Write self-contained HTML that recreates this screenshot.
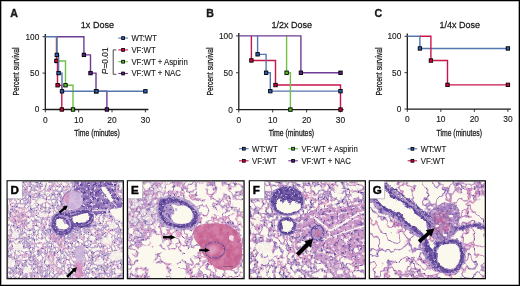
<!DOCTYPE html>
<html><head><meta charset="utf-8"><style>
html,body{margin:0;padding:0;background:#fff;}
body{width:520px;height:286px;overflow:hidden;position:relative;}
svg{position:absolute;left:0;top:0;display:block;will-change:transform;}
text{font-family:"Liberation Sans", sans-serif;fill:#1a1a1a;stroke:#1a1a1a;stroke-width:0.13px;}
text.lb{stroke-width:0.35px;}
text.ax{stroke-width:0.26px;}
#frame{position:absolute;left:0;top:0;width:518px;height:284px;border:1px solid #000;box-shadow:inset 0 0 0 0.6px #777;}
</style></head><body>
<svg width="520" height="286" viewBox="0 0 520 286">
<defs><filter id="tDense" filterUnits="userSpaceOnUse" x="0" y="175" width="520" height="111" color-interpolation-filters="sRGB"><feTurbulence type="fractalNoise" baseFrequency="0.26 0.23" numOctaves="3" seed="3" result="n1"/><feColorMatrix in="n1" type="matrix" values="0 0 0 0 0 0 0 0 0 0 0 0 0 0 0 1 0 0 0 0" result="a1"/><feComponentTransfer in="a1" result="T"><feFuncA type="table" tableValues="0.00 0.00 0.00 0.00 0.00 0.00 0.00 0.00 0.00 0.00 0.00 0.00 0.00 0.13 0.25 0.38 0.50 0.62 0.75 0.87 1.00 0.87 0.75 0.63 0.50 0.38 0.25 0.12 0.00 0.00 0.00 0.00 0.00 0.00 0.00 0.00 0.00 0.00 0.00 0.00 0.00"/></feComponentTransfer><feTurbulence type="fractalNoise" baseFrequency="0.2 0.17" numOctaves="2" seed="7" result="n2"/><feComponentTransfer in="n2" result="n2s"><feFuncR type="linear" slope="4.348" intercept="-1.957"/></feComponentTransfer><feColorMatrix in="n2s" type="matrix" values="0.157 0 0 0 0.675 0.024 0 0 0 0.580 0.000 0 0 0 0.784 0 0 0 0 1" result="C"/><feTurbulence type="fractalNoise" baseFrequency="0.5 0.44" numOctaves="3" seed="11" result="n30"/><feColorMatrix in="n30" type="matrix" values="0 0 0 0 0 0 0 0 0 0 0 0 0 0 0 1 0 0 0 0" result="a30"/><feComponentTransfer in="a30" result="D0"><feFuncA type="table" tableValues="0.00 0.00 0.00 0.00 0.00 0.00 0.00 0.00 0.00 0.00 0.00 0.00 0.00 0.00 0.00 0.00 0.00 0.00 0.00 0.00 0.00 0.00 0.00 0.00 0.00 0.17 0.58 1.00 1.00 1.00 1.00 1.00 1.00 1.00 1.00 1.00 1.00 1.00 1.00 1.00 1.00"/></feComponentTransfer><feFlood flood-color="#6a56a6"/><feComposite in2="D0" operator="in" result="Dc0"/><feComposite in="Dc0" in2="C" operator="over" result="CD0"/><feComposite in="CD0" in2="T" operator="in" result="TT"/><feComposite in="TT" in2="SourceAlpha" operator="in"/><feGaussianBlur stdDeviation="0.4"/></filter>
<filter id="tMed" filterUnits="userSpaceOnUse" x="0" y="175" width="520" height="111" color-interpolation-filters="sRGB"><feTurbulence type="fractalNoise" baseFrequency="0.15" numOctaves="3" seed="5" result="n1"/><feColorMatrix in="n1" type="matrix" values="0 0 0 0 0 0 0 0 0 0 0 0 0 0 0 1 0 0 0 0" result="a1"/><feComponentTransfer in="a1" result="T"><feFuncA type="table" tableValues="0.00 0.00 0.00 0.00 0.00 0.00 0.00 0.00 0.00 0.00 0.00 0.00 0.00 0.00 0.00 0.17 0.33 0.50 0.67 0.83 1.00 0.83 0.67 0.50 0.33 0.17 0.00 0.00 0.00 0.00 0.00 0.00 0.00 0.00 0.00 0.00 0.00 0.00 0.00 0.00 0.00"/></feComponentTransfer><feTurbulence type="fractalNoise" baseFrequency="0.07" numOctaves="2" seed="9" result="n2"/><feComponentTransfer in="n2" result="n2s"><feFuncR type="linear" slope="4.000" intercept="-1.800"/></feComponentTransfer><feColorMatrix in="n2s" type="matrix" values="0.078 0 0 0 0.769 -0.047 0 0 0 0.667 -0.047 0 0 0 0.831 0 0 0 0 1" result="C"/><feTurbulence type="fractalNoise" baseFrequency="0.38 0.33" numOctaves="3" seed="13" result="n30"/><feColorMatrix in="n30" type="matrix" values="0 0 0 0 0 0 0 0 0 0 0 0 0 0 0 1 0 0 0 0" result="a30"/><feComponentTransfer in="a30" result="D0"><feFuncA type="table" tableValues="0.00 0.00 0.00 0.00 0.00 0.00 0.00 0.00 0.00 0.00 0.00 0.00 0.00 0.00 0.00 0.00 0.00 0.00 0.00 0.00 0.00 0.00 0.00 0.00 0.00 0.36 0.71 1.00 1.00 1.00 1.00 1.00 1.00 1.00 1.00 1.00 1.00 1.00 1.00 1.00 1.00"/></feComponentTransfer><feFlood flood-color="#7260ac"/><feComposite in2="D0" operator="in" result="Dc0"/><feComposite in="Dc0" in2="C" operator="over" result="CD0"/><feComposite in="CD0" in2="T" operator="in" result="TT"/><feComposite in="TT" in2="SourceAlpha" operator="in"/><feGaussianBlur stdDeviation="0.45"/></filter>
<filter id="tNet" filterUnits="userSpaceOnUse" x="0" y="175" width="520" height="111" color-interpolation-filters="sRGB"><feTurbulence type="fractalNoise" baseFrequency="0.13" numOctaves="3" seed="15" result="n1"/><feColorMatrix in="n1" type="matrix" values="0 0 0 0 0 0 0 0 0 0 0 0 0 0 0 1 0 0 0 0" result="a1"/><feComponentTransfer in="a1" result="T"><feFuncA type="table" tableValues="0.00 0.00 0.00 0.00 0.00 0.00 0.00 0.00 0.00 0.00 0.00 0.00 0.00 0.00 0.00 0.00 0.20 0.40 0.60 0.80 1.00 0.80 0.60 0.40 0.20 0.00 0.00 0.00 0.00 0.00 0.00 0.00 0.00 0.00 0.00 0.00 0.00 0.00 0.00 0.00 0.00"/></feComponentTransfer><feTurbulence type="fractalNoise" baseFrequency="0.08" numOctaves="2" seed="17" result="n2"/><feComponentTransfer in="n2" result="n2s"><feFuncR type="linear" slope="4.000" intercept="-1.600"/></feComponentTransfer><feColorMatrix in="n2s" type="matrix" values="0.110 0 0 0 0.706 0.008 0 0 0 0.525 -0.024 0 0 0 0.761 0 0 0 0 1" result="C"/><feTurbulence type="fractalNoise" baseFrequency="0.41 0.36" numOctaves="3" seed="19" result="n30"/><feColorMatrix in="n30" type="matrix" values="0 0 0 0 0 0 0 0 0 0 0 0 0 0 0 1 0 0 0 0" result="a30"/><feComponentTransfer in="a30" result="D0"><feFuncA type="table" tableValues="0.00 0.00 0.00 0.00 0.00 0.00 0.00 0.00 0.00 0.00 0.00 0.00 0.00 0.00 0.00 0.00 0.00 0.00 0.00 0.00 0.00 0.00 0.00 0.00 0.29 0.64 1.00 1.00 1.00 1.00 1.00 1.00 1.00 1.00 1.00 1.00 1.00 1.00 1.00 1.00 1.00"/></feComponentTransfer><feFlood flood-color="#6a52a4"/><feComposite in2="D0" operator="in" result="Dc0"/><feComposite in="Dc0" in2="C" operator="over" result="CD0"/><feComposite in="CD0" in2="T" operator="in" result="TT"/><feComposite in="TT" in2="SourceAlpha" operator="in"/><feGaussianBlur stdDeviation="0.35"/></filter>
<filter id="tSparse" filterUnits="userSpaceOnUse" x="0" y="175" width="520" height="111" color-interpolation-filters="sRGB"><feTurbulence type="fractalNoise" baseFrequency="0.08" numOctaves="3" seed="3" result="n1"/><feColorMatrix in="n1" type="matrix" values="0 0 0 0 0 0 0 0 0 0 0 0 0 0 0 1 0 0 0 0" result="a1"/><feComponentTransfer in="a1" result="T"><feFuncA type="table" tableValues="0.00 0.00 0.00 0.00 0.00 0.00 0.00 0.00 0.00 0.00 0.00 0.00 0.00 0.00 0.00 0.00 0.00 0.00 0.33 0.67 1.00 0.67 0.33 0.00 0.00 0.00 0.00 0.00 0.00 0.00 0.00 0.00 0.00 0.00 0.00 0.00 0.00 0.00 0.00 0.00 0.00"/></feComponentTransfer><feTurbulence type="fractalNoise" baseFrequency="0.05" numOctaves="2" seed="7" result="n2"/><feComponentTransfer in="n2" result="n2s"><feFuncR type="linear" slope="5.000" intercept="-2.000"/></feComponentTransfer><feColorMatrix in="n2s" type="matrix" values="0.157 0 0 0 0.643 0.047 0 0 0 0.455 -0.016 0 0 0 0.737 0 0 0 0 1" result="C"/><feTurbulence type="fractalNoise" baseFrequency="0.47 0.41" numOctaves="2" seed="11" result="n30"/><feColorMatrix in="n30" type="matrix" values="0 0 0 0 0 0 0 0 0 0 0 0 0 0 0 1 0 0 0 0" result="a30"/><feComponentTransfer in="a30" result="D0"><feFuncA type="table" tableValues="0.00 0.00 0.00 0.00 0.00 0.00 0.00 0.00 0.00 0.00 0.00 0.00 0.00 0.00 0.00 0.00 0.00 0.00 0.00 0.00 0.00 0.00 0.00 0.00 0.00 0.42 0.83 1.00 1.00 1.00 1.00 1.00 1.00 1.00 1.00 1.00 1.00 1.00 1.00 1.00 1.00"/></feComponentTransfer><feFlood flood-color="#5e4a9c"/><feComposite in2="D0" operator="in" result="Dc0"/><feComposite in="Dc0" in2="C" operator="over" result="CD0"/><feComposite in="CD0" in2="T" operator="in" result="TT"/><feComposite in="TT" in2="SourceAlpha" operator="in"/><feGaussianBlur stdDeviation="0.3"/></filter>
<filter id="soft" x="-20%" y="-20%" width="140%" height="140%"><feGaussianBlur stdDeviation="0.6"/></filter>
<filter id="soft2" x="-30%" y="-30%" width="160%" height="160%"><feGaussianBlur stdDeviation="1.2"/></filter>
<filter id="wavy" filterUnits="userSpaceOnUse" x="0" y="175" width="520" height="111"><feTurbulence type="fractalNoise" baseFrequency="0.25" numOctaves="2" seed="4" result="w"/><feDisplacementMap in="SourceGraphic" in2="w" scale="2.5" xChannelSelector="R" yChannelSelector="G"/><feGaussianBlur stdDeviation="0.3"/></filter>
<filter id="tDarkS" filterUnits="userSpaceOnUse" x="0" y="175" width="520" height="111" color-interpolation-filters="sRGB"><feTurbulence type="fractalNoise" baseFrequency="0.3" numOctaves="1" seed="41" result="n1"/><feColorMatrix in="n1" type="matrix" values="0 0 0 0 0 0 0 0 0 0 0 0 0 0 0 1 0 0 0 0" result="a1"/><feComponentTransfer in="a1" result="T"><feFuncA type="table" tableValues="0.00 1.00 1.00 1.00 1.00 1.00 1.00 1.00 1.00 1.00 1.00 1.00 1.00 1.00 1.00 1.00 1.00 1.00 1.00 1.00 1.00 1.00 1.00 1.00 1.00 1.00 1.00 1.00 1.00 1.00 1.00 1.00 1.00 1.00 1.00 1.00 1.00 1.00 1.00 1.00 1.00"/></feComponentTransfer><feTurbulence type="fractalNoise" baseFrequency="0.25" numOctaves="2" seed="43" result="n2"/><feComponentTransfer in="n2" result="n2s"><feFuncR type="linear" slope="3.333" intercept="-1.167"/></feComponentTransfer><feColorMatrix in="n2s" type="matrix" values="0.165 0 0 0 0.518 0.165 0 0 0 0.400 0.102 0 0 0 0.682 0 0 0 0 1" result="C"/><feTurbulence type="fractalNoise" baseFrequency="0.41 0.36" numOctaves="3" seed="45" result="n30"/><feColorMatrix in="n30" type="matrix" values="0 0 0 0 0 0 0 0 0 0 0 0 0 0 0 1 0 0 0 0" result="a30"/><feComponentTransfer in="a30" result="D0"><feFuncA type="table" tableValues="0.00 0.00 0.00 0.00 0.00 0.00 0.00 0.00 0.00 0.00 0.00 0.00 0.00 0.00 0.00 0.00 0.00 0.00 0.00 0.00 0.00 0.00 0.00 0.00 0.33 0.75 1.00 1.00 1.00 1.00 1.00 1.00 1.00 1.00 1.00 1.00 1.00 1.00 1.00 1.00 1.00"/></feComponentTransfer><feFlood flood-color="#5c4898"/><feComposite in2="D0" operator="in" result="Dc0"/><feComposite in="Dc0" in2="C" operator="over" result="CD0"/><feTurbulence type="fractalNoise" baseFrequency="0.33 0.29" numOctaves="3" seed="47" result="n31"/><feColorMatrix in="n31" type="matrix" values="0 0 0 0 0 0 0 0 0 0 0 0 0 0 0 1 0 0 0 0" result="a31"/><feComponentTransfer in="a31" result="D1"><feFuncA type="table" tableValues="0.00 0.00 0.00 0.00 0.00 0.00 0.00 0.00 0.00 0.00 0.00 0.00 0.00 0.00 0.00 0.00 0.00 0.00 0.00 0.00 0.00 0.00 0.00 0.00 0.00 0.00 0.17 0.58 1.00 1.00 1.00 1.00 1.00 1.00 1.00 1.00 1.00 1.00 1.00 1.00 1.00"/></feComponentTransfer><feFlood flood-color="#ddd0e8"/><feComposite in2="D1" operator="in" result="Dc1"/><feComposite in="Dc1" in2="CD0" operator="over" result="CD1"/><feComposite in="CD1" in2="T" operator="in" result="TT"/><feTurbulence type="fractalNoise" baseFrequency="0.2" numOctaves="2" seed="31" result="dn"/><feDisplacementMap in="SourceAlpha" in2="dn" scale="2.5" xChannelSelector="R" yChannelSelector="G" result="SA"/><feComposite in="TT" in2="SA" operator="in"/><feGaussianBlur stdDeviation="0.45"/></filter>
<filter id="tLavS" filterUnits="userSpaceOnUse" x="0" y="175" width="520" height="111" color-interpolation-filters="sRGB"><feTurbulence type="fractalNoise" baseFrequency="0.3" numOctaves="1" seed="41" result="n1"/><feColorMatrix in="n1" type="matrix" values="0 0 0 0 0 0 0 0 0 0 0 0 0 0 0 1 0 0 0 0" result="a1"/><feComponentTransfer in="a1" result="T"><feFuncA type="table" tableValues="0.00 1.00 1.00 1.00 1.00 1.00 1.00 1.00 1.00 1.00 1.00 1.00 1.00 1.00 1.00 1.00 1.00 1.00 1.00 1.00 1.00 1.00 1.00 1.00 1.00 1.00 1.00 1.00 1.00 1.00 1.00 1.00 1.00 1.00 1.00 1.00 1.00 1.00 1.00 1.00 1.00"/></feComponentTransfer><feTurbulence type="fractalNoise" baseFrequency="0.25" numOctaves="2" seed="53" result="n2"/><feComponentTransfer in="n2" result="n2s"><feFuncR type="linear" slope="3.333" intercept="-1.167"/></feComponentTransfer><feColorMatrix in="n2s" type="matrix" values="0.078 0 0 0 0.647 0.086 0 0 0 0.541 0.055 0 0 0 0.761 0 0 0 0 1" result="C"/><feTurbulence type="fractalNoise" baseFrequency="0.41 0.36" numOctaves="3" seed="55" result="n30"/><feColorMatrix in="n30" type="matrix" values="0 0 0 0 0 0 0 0 0 0 0 0 0 0 0 1 0 0 0 0" result="a30"/><feComponentTransfer in="a30" result="D0"><feFuncA type="table" tableValues="0.00 0.00 0.00 0.00 0.00 0.00 0.00 0.00 0.00 0.00 0.00 0.00 0.00 0.00 0.00 0.00 0.00 0.00 0.00 0.00 0.00 0.00 0.00 0.00 0.00 0.36 0.71 1.00 1.00 1.00 1.00 1.00 1.00 1.00 1.00 1.00 1.00 1.00 1.00 1.00 1.00"/></feComponentTransfer><feFlood flood-color="#6a56a4"/><feComposite in2="D0" operator="in" result="Dc0"/><feComposite in="Dc0" in2="C" operator="over" result="CD0"/><feComposite in="CD0" in2="T" operator="in" result="TT"/><feTurbulence type="fractalNoise" baseFrequency="0.2" numOctaves="2" seed="31" result="dn"/><feDisplacementMap in="SourceAlpha" in2="dn" scale="2.5" xChannelSelector="R" yChannelSelector="G" result="SA"/><feComposite in="TT" in2="SA" operator="in"/><feGaussianBlur stdDeviation="0.45"/></filter>
<filter id="tPaleS" filterUnits="userSpaceOnUse" x="0" y="175" width="520" height="111" color-interpolation-filters="sRGB"><feTurbulence type="fractalNoise" baseFrequency="0.3" numOctaves="1" seed="41" result="n1"/><feColorMatrix in="n1" type="matrix" values="0 0 0 0 0 0 0 0 0 0 0 0 0 0 0 1 0 0 0 0" result="a1"/><feComponentTransfer in="a1" result="T"><feFuncA type="table" tableValues="0.00 1.00 1.00 1.00 1.00 1.00 1.00 1.00 1.00 1.00 1.00 1.00 1.00 1.00 1.00 1.00 1.00 1.00 1.00 1.00 1.00 1.00 1.00 1.00 1.00 1.00 1.00 1.00 1.00 1.00 1.00 1.00 1.00 1.00 1.00 1.00 1.00 1.00 1.00 1.00 1.00"/></feComponentTransfer><feTurbulence type="fractalNoise" baseFrequency="0.2" numOctaves="2" seed="63" result="n2"/><feComponentTransfer in="n2" result="n2s"><feFuncR type="linear" slope="3.333" intercept="-1.167"/></feComponentTransfer><feColorMatrix in="n2s" type="matrix" values="0.055 0 0 0 0.784 0.063 0 0 0 0.690 0.031 0 0 0 0.839 0 0 0 0 1" result="C"/><feTurbulence type="fractalNoise" baseFrequency="0.41 0.36" numOctaves="3" seed="65" result="n30"/><feColorMatrix in="n30" type="matrix" values="0 0 0 0 0 0 0 0 0 0 0 0 0 0 0 1 0 0 0 0" result="a30"/><feComponentTransfer in="a30" result="D0"><feFuncA type="table" tableValues="0.00 0.00 0.00 0.00 0.00 0.00 0.00 0.00 0.00 0.00 0.00 0.00 0.00 0.00 0.00 0.00 0.00 0.00 0.00 0.00 0.00 0.00 0.00 0.00 0.00 0.00 0.00 0.00 0.00 0.08 0.50 0.92 1.00 1.00 1.00 1.00 1.00 1.00 1.00 1.00 1.00"/></feComponentTransfer><feFlood flood-color="#b8a4d0"/><feComposite in2="D0" operator="in" result="Dc0"/><feComposite in="Dc0" in2="C" operator="over" result="CD0"/><feComposite in="CD0" in2="T" operator="in" result="TT"/><feTurbulence type="fractalNoise" baseFrequency="0.2" numOctaves="2" seed="31" result="dn"/><feDisplacementMap in="SourceAlpha" in2="dn" scale="1.5" xChannelSelector="R" yChannelSelector="G" result="SA"/><feComposite in="TT" in2="SA" operator="in"/><feGaussianBlur stdDeviation="0.45"/></filter>
<filter id="tPinkS" filterUnits="userSpaceOnUse" x="0" y="175" width="520" height="111" color-interpolation-filters="sRGB"><feTurbulence type="fractalNoise" baseFrequency="0.3" numOctaves="1" seed="41" result="n1"/><feColorMatrix in="n1" type="matrix" values="0 0 0 0 0 0 0 0 0 0 0 0 0 0 0 1 0 0 0 0" result="a1"/><feComponentTransfer in="a1" result="T"><feFuncA type="table" tableValues="0.00 1.00 1.00 1.00 1.00 1.00 1.00 1.00 1.00 1.00 1.00 1.00 1.00 1.00 1.00 1.00 1.00 1.00 1.00 1.00 1.00 1.00 1.00 1.00 1.00 1.00 1.00 1.00 1.00 1.00 1.00 1.00 1.00 1.00 1.00 1.00 1.00 1.00 1.00 1.00 1.00"/></feComponentTransfer><feTurbulence type="fractalNoise" baseFrequency="0.15" numOctaves="2" seed="73" result="n2"/><feComponentTransfer in="n2" result="n2s"><feFuncR type="linear" slope="3.333" intercept="-1.167"/></feComponentTransfer><feColorMatrix in="n2s" type="matrix" values="0.047 0 0 0 0.776 0.110 0 0 0 0.384 0.090 0 0 0 0.561 0 0 0 0 1" result="C"/><feTurbulence type="fractalNoise" baseFrequency="0.41 0.36" numOctaves="3" seed="75" result="n30"/><feColorMatrix in="n30" type="matrix" values="0 0 0 0 0 0 0 0 0 0 0 0 0 0 0 1 0 0 0 0" result="a30"/><feComponentTransfer in="a30" result="D0"><feFuncA type="table" tableValues="0.00 0.00 0.00 0.00 0.00 0.00 0.00 0.00 0.00 0.00 0.00 0.00 0.00 0.00 0.00 0.00 0.00 0.00 0.00 0.00 0.00 0.00 0.00 0.00 0.00 0.00 0.00 0.00 0.00 0.42 0.83 1.00 1.00 1.00 1.00 1.00 1.00 1.00 1.00 1.00 1.00"/></feComponentTransfer><feFlood flood-color="#b070b0"/><feComposite in2="D0" operator="in" result="Dc0"/><feComposite in="Dc0" in2="C" operator="over" result="CD0"/><feComposite in="CD0" in2="T" operator="in" result="TT"/><feTurbulence type="fractalNoise" baseFrequency="0.2" numOctaves="2" seed="31" result="dn"/><feDisplacementMap in="SourceAlpha" in2="dn" scale="2" xChannelSelector="R" yChannelSelector="G" result="SA"/><feComposite in="TT" in2="SA" operator="in"/><feGaussianBlur stdDeviation="0.45"/></filter>
<filter id="tWallS" filterUnits="userSpaceOnUse" x="0" y="175" width="520" height="111" color-interpolation-filters="sRGB"><feTurbulence type="fractalNoise" baseFrequency="0.3" numOctaves="1" seed="41" result="n1"/><feColorMatrix in="n1" type="matrix" values="0 0 0 0 0 0 0 0 0 0 0 0 0 0 0 1 0 0 0 0" result="a1"/><feComponentTransfer in="a1" result="T"><feFuncA type="table" tableValues="0.00 1.00 1.00 1.00 1.00 1.00 1.00 1.00 1.00 1.00 1.00 1.00 1.00 1.00 1.00 1.00 1.00 1.00 1.00 1.00 1.00 1.00 1.00 1.00 1.00 1.00 1.00 1.00 1.00 1.00 1.00 1.00 1.00 1.00 1.00 1.00 1.00 1.00 1.00 1.00 1.00"/></feComponentTransfer><feTurbulence type="fractalNoise" baseFrequency="0.35" numOctaves="2" seed="83" result="n2"/><feComponentTransfer in="n2" result="n2s"><feFuncR type="linear" slope="3.333" intercept="-1.167"/></feComponentTransfer><feColorMatrix in="n2s" type="matrix" values="0.165 0 0 0 0.314 0.122 0 0 0 0.247 0.102 0 0 0 0.565 0 0 0 0 1" result="C"/><feTurbulence type="fractalNoise" baseFrequency="0.47 0.41" numOctaves="3" seed="85" result="n30"/><feColorMatrix in="n30" type="matrix" values="0 0 0 0 0 0 0 0 0 0 0 0 0 0 0 1 0 0 0 0" result="a30"/><feComponentTransfer in="a30" result="D0"><feFuncA type="table" tableValues="0.00 0.00 0.00 0.00 0.00 0.00 0.00 0.00 0.00 0.00 0.00 0.00 0.00 0.00 0.00 0.00 0.00 0.00 0.00 0.00 0.00 0.00 0.00 0.00 0.00 0.00 0.29 0.64 1.00 1.00 1.00 1.00 1.00 1.00 1.00 1.00 1.00 1.00 1.00 1.00 1.00"/></feComponentTransfer><feFlood flood-color="#b8a2d0"/><feComposite in2="D0" operator="in" result="Dc0"/><feComposite in="Dc0" in2="C" operator="over" result="CD0"/><feComposite in="CD0" in2="T" operator="in" result="TT"/><feTurbulence type="fractalNoise" baseFrequency="0.2" numOctaves="2" seed="31" result="dn"/><feDisplacementMap in="SourceAlpha" in2="dn" scale="2" xChannelSelector="R" yChannelSelector="G" result="SA"/><feComposite in="TT" in2="SA" operator="in"/><feGaussianBlur stdDeviation="0.4"/></filter>
<filter id="tFib" filterUnits="userSpaceOnUse" x="0" y="175" width="520" height="111" color-interpolation-filters="sRGB"><feTurbulence type="fractalNoise" baseFrequency="0.3" numOctaves="1" seed="41" result="n1"/><feColorMatrix in="n1" type="matrix" values="0 0 0 0 0 0 0 0 0 0 0 0 0 0 0 1 0 0 0 0" result="a1"/><feComponentTransfer in="a1" result="T"><feFuncA type="table" tableValues="0.00 1.00 1.00 1.00 1.00 1.00 1.00 1.00 1.00 1.00 1.00 1.00 1.00 1.00 1.00 1.00 1.00 1.00 1.00 1.00 1.00 1.00 1.00 1.00 1.00 1.00 1.00 1.00 1.00 1.00 1.00 1.00 1.00 1.00 1.00 1.00 1.00 1.00 1.00 1.00 1.00"/></feComponentTransfer><feTurbulence type="fractalNoise" baseFrequency="0.18" numOctaves="2" seed="93" result="n2"/><feComponentTransfer in="n2" result="n2s"><feFuncR type="linear" slope="3.333" intercept="-1.167"/></feComponentTransfer><feColorMatrix in="n2s" type="matrix" values="0.086 0 0 0 0.753 0.102 0 0 0 0.549 0.047 0 0 0 0.753 0 0 0 0 1" result="C"/><feTurbulence type="fractalNoise" baseFrequency="0.35 0.31" numOctaves="3" seed="95" result="n30"/><feColorMatrix in="n30" type="matrix" values="0 0 0 0 0 0 0 0 0 0 0 0 0 0 0 1 0 0 0 0" result="a30"/><feComponentTransfer in="a30" result="D0"><feFuncA type="table" tableValues="0.00 0.00 0.00 0.00 0.00 0.00 0.00 0.00 0.00 0.00 0.00 0.00 0.00 0.00 0.00 0.00 0.00 0.00 0.00 0.00 0.00 0.00 0.00 0.11 0.29 0.46 0.64 0.82 1.00 1.00 1.00 1.00 1.00 1.00 1.00 1.00 1.00 1.00 1.00 1.00 1.00"/></feComponentTransfer><feFlood flood-color="#7660ac"/><feComposite in2="D0" operator="in" result="Dc0"/><feComposite in="Dc0" in2="C" operator="over" result="CD0"/><feTurbulence type="fractalNoise" baseFrequency="0.29 0.33" numOctaves="3" seed="97" result="n31"/><feColorMatrix in="n31" type="matrix" values="0 0 0 0 0 0 0 0 0 0 0 0 0 0 0 1 0 0 0 0" result="a31"/><feComponentTransfer in="a31" result="D1"><feFuncA type="table" tableValues="0.00 0.00 0.00 0.00 0.00 0.00 0.00 0.00 0.00 0.00 0.00 0.00 0.00 0.00 0.00 0.00 0.00 0.00 0.00 0.00 0.00 0.00 0.00 0.00 0.14 0.32 0.50 0.68 0.86 1.00 1.00 1.00 1.00 1.00 1.00 1.00 1.00 1.00 1.00 1.00 1.00"/></feComponentTransfer><feFlood flood-color="#f0e4ee"/><feComposite in2="D1" operator="in" result="Dc1"/><feComposite in="Dc1" in2="CD0" operator="over" result="CD1"/><feComposite in="CD1" in2="T" operator="in" result="TT"/><feTurbulence type="fractalNoise" baseFrequency="0.2" numOctaves="2" seed="31" result="dn"/><feDisplacementMap in="SourceAlpha" in2="dn" scale="2.5" xChannelSelector="R" yChannelSelector="G" result="SA"/><feComposite in="TT" in2="SA" operator="in"/><feGaussianBlur stdDeviation="0.45"/></filter>
<filter id="tPinkL" filterUnits="userSpaceOnUse" x="0" y="175" width="520" height="111" color-interpolation-filters="sRGB"><feTurbulence type="fractalNoise" baseFrequency="0.3" numOctaves="1" seed="41" result="n1"/><feColorMatrix in="n1" type="matrix" values="0 0 0 0 0 0 0 0 0 0 0 0 0 0 0 1 0 0 0 0" result="a1"/><feComponentTransfer in="a1" result="T"><feFuncA type="table" tableValues="0.00 1.00 1.00 1.00 1.00 1.00 1.00 1.00 1.00 1.00 1.00 1.00 1.00 1.00 1.00 1.00 1.00 1.00 1.00 1.00 1.00 1.00 1.00 1.00 1.00 1.00 1.00 1.00 1.00 1.00 1.00 1.00 1.00 1.00 1.00 1.00 1.00 1.00 1.00 1.00 1.00"/></feComponentTransfer><feTurbulence type="fractalNoise" baseFrequency="0.15" numOctaves="2" seed="77" result="n2"/><feComponentTransfer in="n2" result="n2s"><feFuncR type="linear" slope="3.333" intercept="-1.167"/></feComponentTransfer><feColorMatrix in="n2s" type="matrix" values="0.047 0 0 0 0.831 0.102 0 0 0 0.549 0.055 0 0 0 0.745 0 0 0 0 1" result="C"/><feTurbulence type="fractalNoise" baseFrequency="0.41 0.36" numOctaves="3" seed="79" result="n30"/><feColorMatrix in="n30" type="matrix" values="0 0 0 0 0 0 0 0 0 0 0 0 0 0 0 1 0 0 0 0" result="a30"/><feComponentTransfer in="a30" result="D0"><feFuncA type="table" tableValues="0.00 0.00 0.00 0.00 0.00 0.00 0.00 0.00 0.00 0.00 0.00 0.00 0.00 0.00 0.00 0.00 0.00 0.00 0.00 0.00 0.00 0.00 0.00 0.00 0.00 0.00 0.00 0.00 0.00 0.42 0.83 1.00 1.00 1.00 1.00 1.00 1.00 1.00 1.00 1.00 1.00"/></feComponentTransfer><feFlood flood-color="#b880c0"/><feComposite in2="D0" operator="in" result="Dc0"/><feComposite in="Dc0" in2="C" operator="over" result="CD0"/><feComposite in="CD0" in2="T" operator="in" result="TT"/><feTurbulence type="fractalNoise" baseFrequency="0.2" numOctaves="2" seed="31" result="dn"/><feDisplacementMap in="SourceAlpha" in2="dn" scale="2" xChannelSelector="R" yChannelSelector="G" result="SA"/><feComposite in="TT" in2="SA" operator="in"/><feGaussianBlur stdDeviation="0.45"/></filter>
<filter id="tNetD" filterUnits="userSpaceOnUse" x="0" y="175" width="520" height="111" color-interpolation-filters="sRGB"><feTurbulence type="fractalNoise" baseFrequency="0.16 0.14" numOctaves="3" seed="25" result="n1"/><feColorMatrix in="n1" type="matrix" values="0 0 0 0 0 0 0 0 0 0 0 0 0 0 0 1 0 0 0 0" result="a1"/><feComponentTransfer in="a1" result="T"><feFuncA type="table" tableValues="0.00 0.00 0.00 0.00 0.00 0.00 0.00 0.00 0.00 0.00 0.00 0.00 0.00 0.00 0.03 0.19 0.35 0.52 0.68 0.84 1.00 0.84 0.68 0.52 0.35 0.19 0.03 0.00 0.00 0.00 0.00 0.00 0.00 0.00 0.00 0.00 0.00 0.00 0.00 0.00 0.00"/></feComponentTransfer><feTurbulence type="fractalNoise" baseFrequency="0.08" numOctaves="2" seed="27" result="n2"/><feComponentTransfer in="n2" result="n2s"><feFuncR type="linear" slope="4.000" intercept="-1.600"/></feComponentTransfer><feColorMatrix in="n2s" type="matrix" values="0.149 0 0 0 0.651 0.039 0 0 0 0.486 0.000 0 0 0 0.737 0 0 0 0 1" result="C"/><feTurbulence type="fractalNoise" baseFrequency="0.38 0.33" numOctaves="3" seed="29" result="n30"/><feColorMatrix in="n30" type="matrix" values="0 0 0 0 0 0 0 0 0 0 0 0 0 0 0 1 0 0 0 0" result="a30"/><feComponentTransfer in="a30" result="D0"><feFuncA type="table" tableValues="0.00 0.00 0.00 0.00 0.00 0.00 0.00 0.00 0.00 0.00 0.00 0.00 0.00 0.00 0.00 0.00 0.00 0.00 0.00 0.00 0.00 0.00 0.00 0.07 0.43 0.79 1.00 1.00 1.00 1.00 1.00 1.00 1.00 1.00 1.00 1.00 1.00 1.00 1.00 1.00 1.00"/></feComponentTransfer><feFlood flood-color="#5e4a9c"/><feComposite in2="D0" operator="in" result="Dc0"/><feComposite in="Dc0" in2="C" operator="over" result="CD0"/><feComposite in="CD0" in2="T" operator="in" result="TT"/><feComposite in="TT" in2="SourceAlpha" operator="in"/><feGaussianBlur stdDeviation="0.4"/></filter>
<filter id="tWallG" filterUnits="userSpaceOnUse" x="0" y="175" width="520" height="111" color-interpolation-filters="sRGB"><feTurbulence type="fractalNoise" baseFrequency="0.3" numOctaves="1" seed="41" result="n1"/><feColorMatrix in="n1" type="matrix" values="0 0 0 0 0 0 0 0 0 0 0 0 0 0 0 1 0 0 0 0" result="a1"/><feComponentTransfer in="a1" result="T"><feFuncA type="table" tableValues="0.00 1.00 1.00 1.00 1.00 1.00 1.00 1.00 1.00 1.00 1.00 1.00 1.00 1.00 1.00 1.00 1.00 1.00 1.00 1.00 1.00 1.00 1.00 1.00 1.00 1.00 1.00 1.00 1.00 1.00 1.00 1.00 1.00 1.00 1.00 1.00 1.00 1.00 1.00 1.00 1.00"/></feComponentTransfer><feTurbulence type="fractalNoise" baseFrequency="0.35" numOctaves="2" seed="83" result="n2"/><feComponentTransfer in="n2" result="n2s"><feFuncR type="linear" slope="3.333" intercept="-1.167"/></feComponentTransfer><feColorMatrix in="n2s" type="matrix" values="0.165 0 0 0 0.314 0.122 0 0 0 0.247 0.102 0 0 0 0.565 0 0 0 0 1" result="C"/><feTurbulence type="fractalNoise" baseFrequency="0.47 0.41" numOctaves="3" seed="85" result="n30"/><feColorMatrix in="n30" type="matrix" values="0 0 0 0 0 0 0 0 0 0 0 0 0 0 0 1 0 0 0 0" result="a30"/><feComponentTransfer in="a30" result="D0"><feFuncA type="table" tableValues="0.00 0.00 0.00 0.00 0.00 0.00 0.00 0.00 0.00 0.00 0.00 0.00 0.00 0.00 0.00 0.00 0.00 0.00 0.00 0.00 0.00 0.00 0.00 0.00 0.00 0.00 0.29 0.64 1.00 1.00 1.00 1.00 1.00 1.00 1.00 1.00 1.00 1.00 1.00 1.00 1.00"/></feComponentTransfer><feFlood flood-color="#b8a2d0"/><feComposite in2="D0" operator="in" result="Dc0"/><feComposite in="Dc0" in2="C" operator="over" result="CD0"/><feComposite in="CD0" in2="T" operator="in" result="TT"/><feTurbulence type="fractalNoise" baseFrequency="0.2" numOctaves="2" seed="31" result="dn"/><feDisplacementMap in="SourceAlpha" in2="dn" scale="4" xChannelSelector="R" yChannelSelector="G" result="SA"/><feComposite in="TT" in2="SA" operator="in"/><feGaussianBlur stdDeviation="0.4"/></filter>
<filter id="tLavG" filterUnits="userSpaceOnUse" x="0" y="175" width="520" height="111" color-interpolation-filters="sRGB"><feTurbulence type="fractalNoise" baseFrequency="0.3" numOctaves="1" seed="41" result="n1"/><feColorMatrix in="n1" type="matrix" values="0 0 0 0 0 0 0 0 0 0 0 0 0 0 0 1 0 0 0 0" result="a1"/><feComponentTransfer in="a1" result="T"><feFuncA type="table" tableValues="0.00 1.00 1.00 1.00 1.00 1.00 1.00 1.00 1.00 1.00 1.00 1.00 1.00 1.00 1.00 1.00 1.00 1.00 1.00 1.00 1.00 1.00 1.00 1.00 1.00 1.00 1.00 1.00 1.00 1.00 1.00 1.00 1.00 1.00 1.00 1.00 1.00 1.00 1.00 1.00 1.00"/></feComponentTransfer><feTurbulence type="fractalNoise" baseFrequency="0.25" numOctaves="2" seed="53" result="n2"/><feComponentTransfer in="n2" result="n2s"><feFuncR type="linear" slope="3.333" intercept="-1.167"/></feComponentTransfer><feColorMatrix in="n2s" type="matrix" values="0.110 0 0 0 0.612 0.110 0 0 0 0.502 0.063 0 0 0 0.737 0 0 0 0 1" result="C"/><feTurbulence type="fractalNoise" baseFrequency="0.41 0.36" numOctaves="3" seed="55" result="n30"/><feColorMatrix in="n30" type="matrix" values="0 0 0 0 0 0 0 0 0 0 0 0 0 0 0 1 0 0 0 0" result="a30"/><feComponentTransfer in="a30" result="D0"><feFuncA type="table" tableValues="0.00 0.00 0.00 0.00 0.00 0.00 0.00 0.00 0.00 0.00 0.00 0.00 0.00 0.00 0.00 0.00 0.00 0.00 0.00 0.00 0.00 0.00 0.00 0.00 0.00 0.36 0.71 1.00 1.00 1.00 1.00 1.00 1.00 1.00 1.00 1.00 1.00 1.00 1.00 1.00 1.00"/></feComponentTransfer><feFlood flood-color="#6a56a4"/><feComposite in2="D0" operator="in" result="Dc0"/><feComposite in="Dc0" in2="C" operator="over" result="CD0"/><feComposite in="CD0" in2="T" operator="in" result="TT"/><feTurbulence type="fractalNoise" baseFrequency="0.2" numOctaves="2" seed="31" result="dn"/><feDisplacementMap in="SourceAlpha" in2="dn" scale="4.5" xChannelSelector="R" yChannelSelector="G" result="SA"/><feComposite in="TT" in2="SA" operator="in"/><feGaussianBlur stdDeviation="0.45"/></filter></defs>
<path d="M45.3,33.9 V109.5 H148.4" fill="none" stroke="#1a1a1a" stroke-width="1.3"/><path d="M42.5,109.5 H45.3" stroke="#222" stroke-width="0.9"/><path d="M42.5,73.1 H45.3" stroke="#222" stroke-width="0.9"/><path d="M42.5,36.7 H45.3" stroke="#222" stroke-width="0.9"/><path d="M45.3,109.5 V112.3" stroke="#222" stroke-width="0.9"/><path d="M78.67,109.5 V112.3" stroke="#222" stroke-width="0.9"/><path d="M112.03,109.5 V112.3" stroke="#222" stroke-width="0.9"/><path d="M145.4,109.5 V112.3" stroke="#222" stroke-width="0.9"/>
<path d="M56.9,36.7 H83.9 V54.9 H90.5 V73.1 H96 V91.3 H106.9 V109.5" fill="none" stroke="#6e3c94" stroke-width="1.4"/><rect x="82.2" y="53.2" width="3.4" height="3.4" fill="#5a1e84" stroke="#000" stroke-width="0.9"/><rect x="88.8" y="71.4" width="3.4" height="3.4" fill="#5a1e84" stroke="#000" stroke-width="0.9"/><rect x="94.3" y="89.6" width="3.4" height="3.4" fill="#5a1e84" stroke="#000" stroke-width="0.9"/><rect x="105.2" y="107.8" width="3.4" height="3.4" fill="#5a1e84" stroke="#000" stroke-width="0.9"/>
<path d="M56.9,36.7 V60.94 H65.5 V85.26 H73 V109.5" fill="none" stroke="#72c046" stroke-width="1.4"/><rect x="55.2" y="59.24" width="3.4" height="3.4" fill="#58c030" stroke="#000" stroke-width="0.9"/><rect x="63.8" y="83.56" width="3.4" height="3.4" fill="#58c030" stroke="#000" stroke-width="0.9"/><rect x="71.3" y="107.8" width="3.4" height="3.4" fill="#58c030" stroke="#000" stroke-width="0.9"/>
<path d="M56.5,36.7 V60.94 H57.5 V85.26 H61.8 V109.5" fill="none" stroke="#c8164b" stroke-width="1.4"/><rect x="54.8" y="59.24" width="3.4" height="3.4" fill="#d8003a" stroke="#000" stroke-width="0.9"/><rect x="55.9" y="83.56" width="3.4" height="3.4" fill="#d8003a" stroke="#000" stroke-width="0.9"/><rect x="60.1" y="107.8" width="3.4" height="3.4" fill="#d8003a" stroke="#000" stroke-width="0.9"/>
<path d="M45.3,36.7 H56.9 M56.8,36.7 V54.9 H58.6 V73.1 H62 V91.3 H145.4" fill="none" stroke="#5577b0" stroke-width="1.4"/><rect x="55.1" y="53.2" width="3.4" height="3.4" fill="#2f5fb0" stroke="#000" stroke-width="0.9"/><rect x="56.9" y="71.4" width="3.4" height="3.4" fill="#2f5fb0" stroke="#000" stroke-width="0.9"/><rect x="60.3" y="89.6" width="3.4" height="3.4" fill="#2f5fb0" stroke="#000" stroke-width="0.9"/><rect x="94.8" y="89.6" width="3.4" height="3.4" fill="#2f5fb0" stroke="#000" stroke-width="0.9"/><rect x="143.7" y="89.6" width="3.4" height="3.4" fill="#2f5fb0" stroke="#000" stroke-width="0.9"/>
<text x="39.3" y="112.45" text-anchor="end" font-size="8.3">0</text><text x="39.3" y="76.05" text-anchor="end" font-size="8.3">50</text><text x="39.3" y="39.65" text-anchor="end" font-size="8.3">100</text><text x="45.3" y="122.6" text-anchor="middle" font-size="8.4">0</text><text x="78.67" y="122.6" text-anchor="middle" font-size="8.4">10</text><text x="112.03" y="122.6" text-anchor="middle" font-size="8.4">20</text><text x="145.4" y="122.6" text-anchor="middle" font-size="8.4">30</text>
<text x="10.2" y="17.1" font-size="10.6" font-weight="bold" class="lb">A</text>
<text class="ax" transform="translate(97.4,28.4) scale(0.93,1)" text-anchor="middle" font-size="9.7">1x Dose</text>
<text class="ax" transform="translate(97,136) scale(0.8,1)" text-anchor="middle" font-size="8.6">Time (minutes)</text>
<text class="ax" transform="translate(19,71.5) rotate(-90) scale(0.79,1)" text-anchor="middle" font-size="8.6">Percent survival</text>
<path d="M118.3,38.1 h9.6" stroke="#5577b0" stroke-width="1.1"/><rect x="121.7" y="36.7" width="2.8" height="2.8" fill="#2f5fb0" stroke="#000" stroke-width="0.85"/><text transform="translate(131.4,40.9) scale(0.94,1)" font-size="8.3">WT:WT</text>
<path d="M118.3,49.9 h9.6" stroke="#c8164b" stroke-width="1.1"/><rect x="121.7" y="48.5" width="2.8" height="2.8" fill="#d8003a" stroke="#000" stroke-width="0.85"/><text transform="translate(131.4,52.7) scale(0.94,1)" font-size="8.3">VF:WT</text>
<path d="M118.3,61.7 h9.6" stroke="#72c046" stroke-width="1.1"/><rect x="121.7" y="60.3" width="2.8" height="2.8" fill="#58c030" stroke="#000" stroke-width="0.85"/><text transform="translate(131.4,64.5) scale(0.94,1)" font-size="8.3">VF:WT + Aspirin</text>
<path d="M118.3,73.5 h9.6" stroke="#6e3c94" stroke-width="1.1"/><rect x="121.7" y="72.1" width="2.8" height="2.8" fill="#5a1e84" stroke="#000" stroke-width="0.85"/><text transform="translate(131.4,76.3) scale(0.94,1)" font-size="8.3">VF:WT + NAC</text>
<text transform="translate(108.1,74.2) rotate(-90)" font-size="8.4"><tspan font-style="italic">P</tspan>=0.01</text>
<path d="M116.4,49.9 H113.2 V74.3 H116.4" fill="none" stroke="#333" stroke-width="0.9"/>
<path d="M238.8,33.1 V109.6 H343.5" fill="none" stroke="#1a1a1a" stroke-width="1.3"/><path d="M236,109.6 H238.8" stroke="#222" stroke-width="0.9"/><path d="M236,72.75 H238.8" stroke="#222" stroke-width="0.9"/><path d="M236,35.9 H238.8" stroke="#222" stroke-width="0.9"/><path d="M238.8,109.6 V112.4" stroke="#222" stroke-width="0.9"/><path d="M272.7,109.6 V112.4" stroke="#222" stroke-width="0.9"/><path d="M306.6,109.6 V112.4" stroke="#222" stroke-width="0.9"/><path d="M340.5,109.6 V112.4" stroke="#222" stroke-width="0.9"/>
<path d="M251.4,35.9 V60.44 H275.5 V85.06 H340.5 V109.6" fill="none" stroke="#c8164b" stroke-width="1.4"/><rect x="249.7" y="58.74" width="3.4" height="3.4" fill="#d8003a" stroke="#000" stroke-width="0.9"/><rect x="273.8" y="83.36" width="3.4" height="3.4" fill="#d8003a" stroke="#000" stroke-width="0.9"/><rect x="338.8" y="107.9" width="3.4" height="3.4" fill="#d8003a" stroke="#000" stroke-width="0.9"/>
<path d="M257.6,35.9 V54.33 H266.1 V72.75 H270.3 V91.17 H340.5" fill="none" stroke="#5577b0" stroke-width="1.4"/><rect x="255.9" y="52.62" width="3.4" height="3.4" fill="#2f5fb0" stroke="#000" stroke-width="0.9"/><rect x="264.4" y="71.05" width="3.4" height="3.4" fill="#2f5fb0" stroke="#000" stroke-width="0.9"/><rect x="268.6" y="89.47" width="3.4" height="3.4" fill="#2f5fb0" stroke="#000" stroke-width="0.9"/><rect x="338.8" y="89.47" width="3.4" height="3.4" fill="#2f5fb0" stroke="#000" stroke-width="0.9"/>
<path d="M286.6,35.9 V72.75 H290.4 V109.6" fill="none" stroke="#72c046" stroke-width="1.4"/><rect x="284.9" y="71.05" width="3.4" height="3.4" fill="#58c030" stroke="#000" stroke-width="0.9"/><rect x="288.7" y="107.9" width="3.4" height="3.4" fill="#58c030" stroke="#000" stroke-width="0.9"/>
<path d="M238.8,35.9 H300.9 V72.75 H340.5" fill="none" stroke="#6e3c94" stroke-width="1.4"/><rect x="299.2" y="71.05" width="3.4" height="3.4" fill="#5a1e84" stroke="#000" stroke-width="0.9"/><rect x="338.8" y="71.05" width="3.4" height="3.4" fill="#5a1e84" stroke="#000" stroke-width="0.9"/>
<text x="232.8" y="112.55" text-anchor="end" font-size="8.3">0</text><text x="232.8" y="75.7" text-anchor="end" font-size="8.3">50</text><text x="232.8" y="38.85" text-anchor="end" font-size="8.3">100</text><text x="238.8" y="122.7" text-anchor="middle" font-size="8.4">0</text><text x="272.7" y="122.7" text-anchor="middle" font-size="8.4">10</text><text x="306.6" y="122.7" text-anchor="middle" font-size="8.4">20</text><text x="340.5" y="122.7" text-anchor="middle" font-size="8.4">30</text>
<text x="206.3" y="17" font-size="10.6" font-weight="bold" class="lb">B</text>
<text class="ax" transform="translate(291.8,28.3) scale(0.93,1)" text-anchor="middle" font-size="9.7">1/2x Dose</text>
<text class="ax" transform="translate(291.4,136.2) scale(0.8,1)" text-anchor="middle" font-size="8.6">Time (minutes)</text>
<text class="ax" transform="translate(212.6,71.5) rotate(-90) scale(0.79,1)" text-anchor="middle" font-size="8.6">Percent survival</text>
<path d="M239,148.7 h9.6" stroke="#5577b0" stroke-width="1.1"/><rect x="242.4" y="147.3" width="2.8" height="2.8" fill="#2f5fb0" stroke="#000" stroke-width="0.85"/><text transform="translate(252.1,151.5) scale(0.94,1)" font-size="8.3">WT:WT</text>
<path d="M239,160.8 h9.6" stroke="#c8164b" stroke-width="1.1"/><rect x="242.4" y="159.4" width="2.8" height="2.8" fill="#d8003a" stroke="#000" stroke-width="0.85"/><text transform="translate(252.1,163.6) scale(0.94,1)" font-size="8.3">VF:WT</text>
<path d="M288.3,148.7 h9.6" stroke="#72c046" stroke-width="1.1"/><rect x="291.7" y="147.3" width="2.8" height="2.8" fill="#58c030" stroke="#000" stroke-width="0.85"/><text transform="translate(301.4,151.5) scale(0.94,1)" font-size="8.3">VF:WT + Aspirin</text>
<path d="M288.3,160.8 h9.6" stroke="#6e3c94" stroke-width="1.1"/><rect x="291.7" y="159.4" width="2.8" height="2.8" fill="#5a1e84" stroke="#000" stroke-width="0.85"/><text transform="translate(301.4,163.6) scale(0.94,1)" font-size="8.3">VF:WT + NAC</text>
<path d="M407.3,33.5 V109.1 H510.9" fill="none" stroke="#1a1a1a" stroke-width="1.3"/><path d="M404.5,109.1 H407.3" stroke="#222" stroke-width="0.9"/><path d="M404.5,72.7 H407.3" stroke="#222" stroke-width="0.9"/><path d="M404.5,36.3 H407.3" stroke="#222" stroke-width="0.9"/><path d="M407.3,109.1 V111.9" stroke="#222" stroke-width="0.9"/><path d="M440.83,109.1 V111.9" stroke="#222" stroke-width="0.9"/><path d="M474.37,109.1 V111.9" stroke="#222" stroke-width="0.9"/><path d="M507.9,109.1 V111.9" stroke="#222" stroke-width="0.9"/>
<path d="M407.3,36.3 H419.9 V48.46 H507.9" fill="none" stroke="#5577b0" stroke-width="1.4"/><rect x="418.2" y="46.76" width="3.4" height="3.4" fill="#2f5fb0" stroke="#000" stroke-width="0.9"/><rect x="506.2" y="46.76" width="3.4" height="3.4" fill="#2f5fb0" stroke="#000" stroke-width="0.9"/>
<path d="M419.9,36.3 H430.9 V60.54 H447.5 V84.86 H507.9" fill="none" stroke="#c8164b" stroke-width="1.4"/><rect x="429.2" y="58.84" width="3.4" height="3.4" fill="#d8003a" stroke="#000" stroke-width="0.9"/><rect x="445.8" y="83.16" width="3.4" height="3.4" fill="#d8003a" stroke="#000" stroke-width="0.9"/><rect x="506.2" y="83.16" width="3.4" height="3.4" fill="#d8003a" stroke="#000" stroke-width="0.9"/>
<text x="401.3" y="112.05" text-anchor="end" font-size="8.3">0</text><text x="401.3" y="75.65" text-anchor="end" font-size="8.3">50</text><text x="401.3" y="39.25" text-anchor="end" font-size="8.3">100</text><text x="407.3" y="122.2" text-anchor="middle" font-size="8.4">0</text><text x="440.83" y="122.2" text-anchor="middle" font-size="8.4">10</text><text x="474.37" y="122.2" text-anchor="middle" font-size="8.4">20</text><text x="507.9" y="122.2" text-anchor="middle" font-size="8.4">30</text>
<text x="374.5" y="17.2" font-size="10.6" font-weight="bold" class="lb">C</text>
<text class="ax" transform="translate(459.8,28.3) scale(0.93,1)" text-anchor="middle" font-size="9.7">1/4x Dose</text>
<text class="ax" transform="translate(459.2,136) scale(0.8,1)" text-anchor="middle" font-size="8.6">Time (minutes)</text>
<text class="ax" transform="translate(381.8,71.5) rotate(-90) scale(0.79,1)" text-anchor="middle" font-size="8.6">Percent survival</text>
<path d="M407.6,148.8 h9.6" stroke="#5577b0" stroke-width="1.1"/><rect x="411" y="147.4" width="2.8" height="2.8" fill="#2f5fb0" stroke="#000" stroke-width="0.85"/><text transform="translate(420.7,151.6) scale(0.94,1)" font-size="8.3">WT:WT</text>
<path d="M407.6,160.8 h9.6" stroke="#c8164b" stroke-width="1.1"/><rect x="411" y="159.4" width="2.8" height="2.8" fill="#d8003a" stroke="#000" stroke-width="0.85"/><text transform="translate(420.7,163.6) scale(0.94,1)" font-size="8.3">VF:WT</text>
<clipPath id="clipD"><rect x="7.8" y="181.5" width="114.9" height="96.50000000000003"/></clipPath><g clip-path="url(#clipD)"><rect x="7.8" y="181.5" width="114.9" height="96.50000000000003" fill="#fbf8ee"/><rect x="7.8" y="181.5" width="114.9" height="96.50000000000003" filter="url(#tDense)" /><ellipse cx="20" cy="216" rx="9" ry="8" fill="#d890bc" opacity="0.3" filter="url(#soft2)"/><g fill="#fbf8ee" opacity="0.85" filter="url(#wavy)"><ellipse cx="15.5" cy="235" rx="3.5" ry="3.5"/><ellipse cx="18.5" cy="247" rx="4.5" ry="3.5"/><ellipse cx="40.7" cy="201" rx="3.8" ry="2.8"/><ellipse cx="43.6" cy="214.8" rx="4.5" ry="2.6"/><ellipse cx="106.7" cy="241" rx="5.5" ry="3.8"/><ellipse cx="116" cy="256" rx="6.5" ry="5"/><ellipse cx="11.6" cy="263" rx="3.5" ry="4.5"/><ellipse cx="27" cy="270" rx="3.8" ry="3.5"/><ellipse cx="112.5" cy="225.5" rx="3.8" ry="3.5"/><ellipse cx="63" cy="277" rx="4.5" ry="2.5"/><ellipse cx="33" cy="205" rx="2.5" ry="2"/><ellipse cx="92" cy="238" rx="3" ry="2.5"/><ellipse cx="100" cy="262" rx="4" ry="2.5"/><ellipse cx="118" cy="272" rx="3" ry="3"/><ellipse cx="30" cy="226" rx="2.5" ry="2.5"/><ellipse cx="48" cy="262" rx="2.5" ry="2.5"/></g><path d="M74,181 L118,181 Q114,189 117,196 L123,199 L123,208 Q116,208 111,212.5 Q100,215 90,214 Q81,214 76,211 Q72,198 74,181 Z" fill="#000" filter="url(#tDarkS)"/><path d="M101,187.5 Q103.5,185.5 105.5,187.5 L110,194 L113.5,199.5 Q113,202.5 110.5,202 Q107.5,198 105.5,195 L102,190.5 Z" fill="#fbf8ee" filter="url(#wavy)"/><path d="M109.5,210 Q113,207.5 117,208.5 Q121,207.5 124,208 L124,220 Q119,221 115.5,218.5 Q111,215 109.5,210 Z" fill="#fbf8ee" filter="url(#wavy)"/><path d="M87.8,211.3 Q99,209.5 109.4,210.2" stroke="#fbf8ee" stroke-width="0.9" fill="none"/><path d="M50.5,224 Q51,213 59,212 Q66,211 70,210 Q80,208 91,209 Q95,214 94,220 Q92,227 85,228.5 Q77,229 73,232 Q68,237 60,236.5 Q51,234 50.5,224 Z" fill="#000" filter="url(#tLavS)"/><g fill="none" stroke="#000" filter="url(#tWallS)"><path d="M52.5,224 Q53,215 60,214 Q66,213.5 70,216 Q73,221 72,228 Q69,234.5 61,234.5 Q53.5,232.5 52.5,224 Z" stroke-width="2"/><path d="M71,213 Q80,209.5 90,211 Q93.5,215 92.5,220 Q90,225.5 83,226.5 Q76,227 72.5,225" stroke-width="1.8"/></g><g fill="none" stroke="#000" stroke-width="2.2" filter="url(#tWallS)"><path d="M56.5,218.5 Q61,216.5 65.5,219.5 Q68.5,222 68.5,227 Q66.5,231.5 62,231.8 Q56.5,231 54.8,226.5 Q54.5,221.5 56.5,218.5 Z"/><path d="M71.5,216.5 Q78,213.5 85.5,212 Q90.5,212.5 90.8,216.8 Q89,222.5 84.5,223.8 Q78,224.5 73.8,224.2 Q70.5,221 71.5,216.5 Z"/></g><g fill="#fbf8ee" filter="url(#wavy)"><path d="M56.9,218 Q60,218.2 62.5,219.5 Q64,220.2 65.5,222.5 Q67.5,224 68.8,226.2 Q68,229 64.5,229.2 Q61,229.5 58.5,228.5 Q56,226.5 56.2,222.5 Q56,220 56.9,218 Z"/><path d="M72.6,216.8 Q79,214.5 85.9,213.3 Q89.4,214 89.4,216.8 Q88,221 84.5,222.3 Q79,223.2 74,223 Q72,220.5 72.6,216.8 Z"/></g><path d="M62,219.5 Q65.5,219 67.5,221.5 Q67,224 64.8,224.3 Q62.8,223 62,219.5 Z" fill="#000" filter="url(#tLavS)"/><ellipse cx="73" cy="200.5" rx="9.8" ry="9.5" fill="#000" filter="url(#tPaleS)"/><path d="M64,198 Q64.5,192.5 69.5,192 Q68,198 68.8,204 Q65,203.5 64,198 Z" fill="#000" filter="url(#tPinkL)"/><path d="M70,190.8 Q62.5,193 61,206.5" fill="none" stroke="#6a54a4" stroke-width="0.9" opacity="0.8"/><path d="M74,190.6 Q80,190.5 83,195" fill="none" stroke="#c090c0" stroke-width="0.9" opacity="0.6"/><path d="M53,234 L65,250" stroke="#d690bc" stroke-width="4" opacity="0.5" filter="url(#soft)"/><path d="M48,258 L61,275" stroke="#d898c0" stroke-width="4" opacity="0.4" filter="url(#soft)"/><path d="M75.7,249 Q80,244.5 84.4,248 L84,266 Q80,268 76,266 Z" fill="#000" filter="url(#tPaleS)"/><path d="M75,263.5 Q79,261.5 82.5,264 L83,277 L74.5,277 Z" fill="#000" filter="url(#tPinkL)"/><path d="M97,267 H108" stroke="#555" stroke-width="0.5" opacity="0.7"/><polygon points="60.15,213.57 64.98,209.38 65.93,210.48 67.70,205.50 62.52,206.55 63.47,207.65 58.65,211.83" fill="#000"/><polygon points="67.83,277.67 74.22,271.53 75.33,272.68 77.00,267.20 71.45,268.64 72.56,269.80 66.17,275.93" fill="#000"/></g><rect x="7.15" y="180.85" width="116.2" height="97.80000000000003" fill="none" stroke="#111" stroke-width="1.3"/><rect x="7.8" y="181.5" width="14.4" height="17.1" fill="#fff"/><path d="M22.4,181.5 V198.79999999999998 H7.8" fill="none" stroke="#999" stroke-width="0.6"/><text x="10.6" y="194.29999999999998" font-size="11.6" font-weight="bold" style="fill:#000;stroke:#000;stroke-width:0.45px">D</text>
<clipPath id="clipE"><rect x="128.1" y="181.5" width="115.3" height="96.50000000000003"/></clipPath><g clip-path="url(#clipE)"><rect x="128.1" y="181.5" width="115.3" height="96.50000000000003" fill="#fbf8ee"/><rect x="128.1" y="181.5" width="115.3" height="96.50000000000003" filter="url(#tNet)" /><path d="M128.1,181.5 H166 Q160,230 150,238 Q140,236 128.1,240 Z" fill="#000" opacity="0.55" filter="url(#tDense)"/><g fill="#fbf8ee" filter="url(#wavy)"><path d="M150,238 Q154,233.5 159,234.5 Q163,238 162,243 Q158,247 153,246.5 Q149.5,243 150,238 Z"/><path d="M139,248 Q144,244 150,246 Q156,249 155.5,256 Q155,264 151,268 Q145,269.5 141,266 Q137.5,260 138.5,254 Z"/><path d="M161,252 Q168,248.5 176,250 Q183,251.5 184,256 Q182,262 175,263.5 Q167,264 162,261 Q159.5,257 161,252 Z"/><path d="M149,266 Q155,262.5 162,264 Q168,267 168,273 Q166,279 158,279.5 Q150,279 148,274 Z"/><path d="M128,249.5 Q131,248.5 133,251 Q133.5,255 130,256.5 Q128,255 128,249.5 Z"/><path d="M172,269 Q178,267 185,269.5 Q187,274 184,279 L172,279 Q170,273 172,269 Z"/><path d="M185,250.5 Q190,249 194,251 Q195,255 192,258 Q187,258.5 185,256 Z"/><path d="M197,184 Q202,182.5 205.5,186 Q206,192 203,196.5 Q199,197.5 197,194 Z"/><path d="M220,186.5 Q224,185 227.5,187.5 Q228,191 225,193 Q221,193 220,190 Z"/><ellipse cx="238" cy="204" rx="3.5" ry="4"/><ellipse cx="214" cy="212" rx="3.5" ry="2.5"/><ellipse cx="231" cy="212" rx="2.5" ry="2.5"/><ellipse cx="140" cy="272" rx="3" ry="3"/><ellipse cx="208" cy="199" rx="2.5" ry="2"/><ellipse cx="147" cy="186" rx="3" ry="2.5"/><ellipse cx="131" cy="231" rx="2.5" ry="3"/><ellipse cx="240" cy="219" rx="2.5" ry="2.5"/></g><path d="M157.5,198.5 Q165,195.5 174,196.2 Q184,196.8 189,200.5 Q199,206 200.2,214 Q200.2,224 194.5,228.5 Q186,231 178,230.2 Q168,229 163,226.5 Q156.5,221 156.5,212 Q156,204 157.5,198.5 Z" fill="#000" filter="url(#tLavS)" opacity="0.7"/><path d="M160,199.5 Q167,197.8 173.6,198.5 Q181,199 186.2,202.4 Q194,207 197.6,213.6 Q198.6,220 196,223.5 Q190,228 181.5,228.2 Q174,228 168.9,225.6 Q161.5,222 159.4,215.2 Q158,206 160,199.5 Z" fill="#000" filter="url(#tWallS)"/><path d="M165,205 Q169,202 174,202.3 Q180,202.5 185,205 Q192,209 194,214.5 Q194.5,219.5 192,221.5 Q187,224.5 181,224.5 Q174,224.5 170,222.5 Q164,219.5 163,214 Q162.5,208 165,205 Z" fill="#000" filter="url(#tLavS)"/><path d="M170,205.5 Q173,203.5 176.5,205.5 Q179,206.5 181,205.3 Q185.5,204.8 189,207.8 Q193,211.5 192.7,217 Q191.7,222.2 186,223.6 Q179,224.6 174.5,222.6 Q171.2,220 171.6,215.5 Q169,211 170,205.5 Z" fill="#fbf8ee" filter="url(#wavy)"/><path d="M168,206 Q171,204.5 173,207 Q175,210.5 174,214 Q171.5,215.5 169.5,213 Q167.5,209.5 168,206 Z" fill="#000" filter="url(#tLavS)"/><path d="M175,208 Q177,207.5 178,209.5 Q177,211.5 175.5,211 Z" fill="#000" filter="url(#tLavS)" opacity="0.8"/><path d="M194.4,229.5 Q197,225 202.8,224.3 Q210,223 217.5,223.2 Q223,223.5 228,225.3 Q233,227 236.3,230.6 Q240,234 241,239 Q242.5,245 242.2,251.6 Q242,256 241,260 Q239.5,264 236.3,267.3 Q232,270 228,270.4 Q224,270.5 219.6,269.4 Q215,268 211.2,265.2 Q208,262 207,259 Q204,256.5 202,253 Q200.5,248 199.5,245.3 Q196,242 194.4,239 Q192.5,235 194.4,229.5 Z" fill="#000" filter="url(#tPinkS)"/><path d="M229,236 Q232,234.5 234,236.5 L233,241 Q230,241 229,239 Z" fill="#f3dce8" filter="url(#soft)"/><ellipse cx="214.5" cy="250" rx="10.3" ry="8.2" fill="none" stroke="#000" stroke-width="1.3" filter="url(#tWallS)" opacity="0.75"/><ellipse cx="213" cy="250" rx="5" ry="5" fill="#e8c4dc" opacity="0.45" filter="url(#soft2)"/><ellipse cx="179" cy="234.5" rx="3.5" ry="3" fill="#000" filter="url(#tPinkL)" opacity="0.8"/><path d="M223,266.5 H233" stroke="#333" stroke-width="0.45" opacity="0.8"/><polygon points="162.90,238.40 170.50,238.40 170.50,239.70 175.50,237.20 170.50,234.70 170.50,236.00 162.90,236.00" fill="#000"/><polygon points="199.20,251.25 205.00,251.25 205.00,252.50 210.00,250.20 205.00,247.90 205.00,249.15 199.20,249.15" fill="#000"/></g><rect x="127.45" y="180.85" width="116.6" height="97.80000000000003" fill="none" stroke="#111" stroke-width="1.3"/><rect x="128.1" y="181.5" width="14.4" height="17.1" fill="#fff"/><path d="M142.7,181.5 V198.79999999999998 H128.1" fill="none" stroke="#999" stroke-width="0.6"/><text x="130.9" y="194.29999999999998" font-size="11.6" font-weight="bold" style="fill:#000;stroke:#000;stroke-width:0.45px">E</text>
<clipPath id="clipF"><rect x="250.0" y="181.5" width="114.70000000000002" height="96.50000000000003"/></clipPath><g clip-path="url(#clipF)"><rect x="250.0" y="181.5" width="114.70000000000002" height="96.50000000000003" fill="#fbf8ee"/><rect x="250.0" y="181.5" width="114.70000000000002" height="96.50000000000003" filter="url(#tNetD)" /><g fill="#fbf8ee" filter="url(#wavy)" opacity="0.9"><path d="M255.5,246 Q258,241.5 264,242 Q271,241.5 273,245 Q273.5,251 268,254 Q261,255 257,252 Z"/><path d="M259,259 Q263,256 268,257 Q270,261 267,264.5 Q262,265.5 259.5,263 Z"/><ellipse cx="257" cy="222" rx="3" ry="3"/><ellipse cx="338" cy="190" rx="4" ry="3.5"/><ellipse cx="355" cy="195" rx="3.5" ry="3"/><ellipse cx="357" cy="242" rx="3.5" ry="4.5"/><ellipse cx="263" cy="272" rx="3" ry="2.5"/><ellipse cx="318" cy="188" rx="3" ry="2.5"/><ellipse cx="348" cy="260" rx="3" ry="3"/><ellipse cx="271" cy="256" rx="3" ry="2.5"/></g><path d="M303,214 Q318,206 338,208.5 Q352,206.5 366,201 L366,266 Q350,261 336,253 Q322,246 311,247 Q301,236 303,214 Z" fill="#000" filter="url(#tFib)"/><path d="M311,247 Q322,250 336,262 Q345,270 350,279 L335,279 Q326,266 314,256 Z" fill="#000" filter="url(#tFib)" opacity="0.7"/><path d="M296,212 Q302,220 306,232 Q302,238 297,236 Q293,224 296,212 Z" fill="#000" filter="url(#tFib)" opacity="0.7"/><g fill="none" stroke="#fbf8ee" stroke-linecap="round" filter="url(#wavy)"><path d="M315,218 Q322,224 330,230.5 Q340,226 351,218 Q357,213.5 364,212" stroke-width="1.8"/><path d="M323,239 Q335,236 345,232 Q355,228.5 364,226" stroke-width="1.3"/></g><g fill="#fbf8ee" filter="url(#wavy)"><ellipse cx="346" cy="240" rx="2.5" ry="2"/><ellipse cx="356" cy="250" rx="2" ry="2.5"/><ellipse cx="340" cy="272" rx="3" ry="2"/></g><ellipse cx="287" cy="201" rx="17.8" ry="15.2" fill="#000" filter="url(#tLavS)"/><ellipse cx="287" cy="226" rx="10" ry="9.8" fill="#000" filter="url(#tLavS)"/><ellipse cx="287" cy="201" rx="16.2" ry="14.2" fill="#000" filter="url(#tWallS)"/><ellipse cx="287" cy="226" rx="9" ry="8.8" fill="#000" filter="url(#tWallS)"/><g fill="#fbf8ee" filter="url(#wavy)"><path d="M276,205 Q276.5,199 280,198.5 Q281.5,202.5 283.5,203 Q285,199.5 287,200.5 Q288.5,204 290.5,203.5 Q292.5,200 294.5,201 Q296,204.5 298,203.5 Q300.5,202.5 301,205.5 Q301,209.5 297,211 Q292,212 290.5,213.3 L284.5,213.3 Q282,211.5 279,210.5 Q276.2,209 276,205 Z"/><path d="M281.5,222 Q284,219.5 288,220 Q292.5,220.5 293.5,224 Q293,229 290,231.5 Q286,232.5 282.5,231 Q284,227 281.5,222 Z"/></g><ellipse cx="317.5" cy="233" rx="6.5" ry="7.5" fill="#000" filter="url(#tLavS)"/><ellipse cx="317.5" cy="233" rx="6.5" ry="7.5" fill="none" stroke="#000" stroke-width="1.3" filter="url(#tWallS)"/><ellipse cx="318" cy="233" rx="3.5" ry="4" fill="#000" filter="url(#tPinkS)" opacity="0.6"/><polygon points="298.82,256.01 308.88,245.88 310.65,247.65 313.10,238.80 304.27,241.30 306.04,243.07 295.98,253.19" fill="#000"/></g><rect x="249.35" y="180.85" width="116.00000000000001" height="97.80000000000003" fill="none" stroke="#111" stroke-width="1.3"/><rect x="250.0" y="181.5" width="14.4" height="17.1" fill="#fff"/><path d="M264.59999999999997,181.5 V198.79999999999998 H250.0" fill="none" stroke="#999" stroke-width="0.6"/><text x="252.79999999999998" y="194.29999999999998" font-size="11.6" font-weight="bold" style="fill:#000;stroke:#000;stroke-width:0.45px">F</text>
<clipPath id="clipG"><rect x="370.0" y="181.5" width="114.70000000000002" height="96.50000000000003"/></clipPath><g clip-path="url(#clipG)"><rect x="370.0" y="181.5" width="114.70000000000002" height="96.50000000000003" fill="#fbf8ee"/><rect x="370.0" y="181.5" width="114.70000000000002" height="96.50000000000003" filter="url(#tSparse)" /><path d="M452,181 L487,181 L487,196 Q470,198 456,192 Z" fill="#000" filter="url(#tNet)"/><path d="M406,258 Q418,254 430,262 L432,279 L404,279 Z" fill="#000" filter="url(#tNet)"/><path d="M370,181 L384,181 Q386,192 378,196 L370,196 Z" fill="#000" filter="url(#tNet)"/><path d="M384.7,186.2 Q392,195 405.6,204 Q420,213 430.8,226 L426.6,242 Q420,233 412,227 Q400,216 391,211.4 Q380,206 376.3,199.8 Q378,190 384.7,186.2 Z" fill="#fbf8ee"/><path d="M428,215 Q431,208 437,207 Q441,201 448,203 Q455,202 458,208 Q462,214 459,221 Q461,229 455,234 Q449,241 440,240 Q431,239 428,232 Q425,224 428,215 Z" fill="#000" filter="url(#tFib)"/><path d="M428,215 Q431,208 437,207 Q441,201 448,203 Q455,202 458,208 Q462,214 459,221 Q461,229 455,234 Q449,241 440,240 Q431,239 428,232 Q425,224 428,215 Z" fill="#000" filter="url(#tDarkS)" opacity="0.6"/><path d="M432,214 Q440,209 448,212 Q454,220 449,230 Q441,236 434,231 Z" fill="#000" filter="url(#tPinkS)" opacity="0.3"/><g fill="#fbf8ee" filter="url(#wavy)"><ellipse cx="451" cy="216" rx="2" ry="1.5"/><ellipse cx="437" cy="226" rx="1.6" ry="1.3"/><ellipse cx="445" cy="235" rx="2" ry="1.4"/><ellipse cx="455" cy="226" rx="1.5" ry="2"/></g><ellipse cx="440" cy="220" rx="2.5" ry="2" fill="#d05c9c" opacity="0.7" filter="url(#soft)"/><ellipse cx="447" cy="229" rx="2" ry="2" fill="#d05c9c" opacity="0.6" filter="url(#soft)"/><g fill="none" stroke="#000" stroke-linecap="round" stroke-linejoin="round" filter="url(#tLavG)"><path d="M384.7,186.2 Q388,190 389.9,192.5 Q393,196 397.3,198.8 Q401,201.5 405.6,204 Q409,206 411.9,208.2 Q416,212 420.3,215.5 Q424,218 426.6,220.8 Q429,223 430.8,226" stroke-width="6" transform="translate(0.6,-1.2)"/><path d="M369,197 Q373,198 376.3,199.8 Q379,203 382.6,207.2 Q386,209.5 391,211.4 Q395,213 399.4,215.5 Q403,219 406.7,222.9 Q409,225 412,227 Q415,229 418.2,231.3 Q421,233.5 423.5,236.5 Q425.5,239 426.6,242 Q429,248 431,254" stroke-width="7" transform="translate(-1.2,1.6)"/><path d="M426,244 Q428,254 434,262 Q438,266 441,268" stroke-width="8" transform="translate(-1.2,1)"/><path d="M437,244.5 Q446,240.5 456,242 Q462.5,245 462.5,254 Q462.5,266 455,270.5 Q446,273 439.5,268.5 Q434.5,262 435,253 Q435,248 437,244.5 Z" stroke-width="6"/><path d="M452,227 Q460,230 466,227 Q474,223.5 480,226 Q484,228 487,229" stroke-width="4.5"/></g><g fill="none" stroke="#000" stroke-linecap="round" stroke-linejoin="round" filter="url(#tWallG)"><path d="M384.7,186.2 Q388,190 389.9,192.5 Q393,196 397.3,198.8 Q401,201.5 405.6,204 Q409,206 411.9,208.2 Q416,212 420.3,215.5 Q424,218 426.6,220.8 Q429,223 430.8,226" stroke-width="2.8"/><path d="M391,186.2 Q396,190.5 401.4,194.6 Q407,198.5 412,202 Q417,206.5 422.4,211.4 Q426,214.5 430.8,217.6" stroke-width="1.8"/><path d="M369,197 Q373,198 376.3,199.8 Q379,203 382.6,207.2 Q386,209.5 391,211.4 Q395,213 399.4,215.5 Q403,219 406.7,222.9 Q409,225 412,227 Q415,229 418.2,231.3 Q421,233.5 423.5,236.5 Q425.5,239 426.6,242 Q429,248 431,254" stroke-width="3.4"/><path d="M426,244 Q428,254 434,262 Q438,266 441,268" stroke-width="5"/><path d="M437,244.5 Q446,240.5 456,242 Q462.5,245 462.5,254 Q462.5,266 455,270.5 Q446,273 439.5,268.5 Q434.5,262 435,253 Q435,248 437,244.5 Z" stroke-width="3.4"/><path d="M452,227 Q460,230 466,227 Q474,223.5 480,226 Q484,228 487,229" stroke-width="2.4"/></g><path d="M439.5,246.5 Q446,243 454.5,244 Q460,247 460,254.5 Q460,264 453.5,268 Q446,270 441.5,266 Q437.5,260.5 437.8,253 Q438,249 439.5,246.5 Z" fill="#fbf8ee"/><polygon points="420.17,242.97 429.68,234.86 431.27,236.72 434.60,228.30 425.75,230.26 427.34,232.12 417.83,240.23" fill="#000"/></g><rect x="369.34999999999997" y="180.85" width="116.00000000000001" height="97.80000000000003" fill="none" stroke="#111" stroke-width="1.3"/><rect x="370.0" y="181.5" width="14.4" height="17.1" fill="#fff"/><path d="M384.59999999999997,181.5 V198.79999999999998 H370.0" fill="none" stroke="#999" stroke-width="0.6"/><text x="372.8" y="194.29999999999998" font-size="11.6" font-weight="bold" style="fill:#000;stroke:#000;stroke-width:0.45px">G</text>
</svg>
<div id="frame"></div>
</body></html>
